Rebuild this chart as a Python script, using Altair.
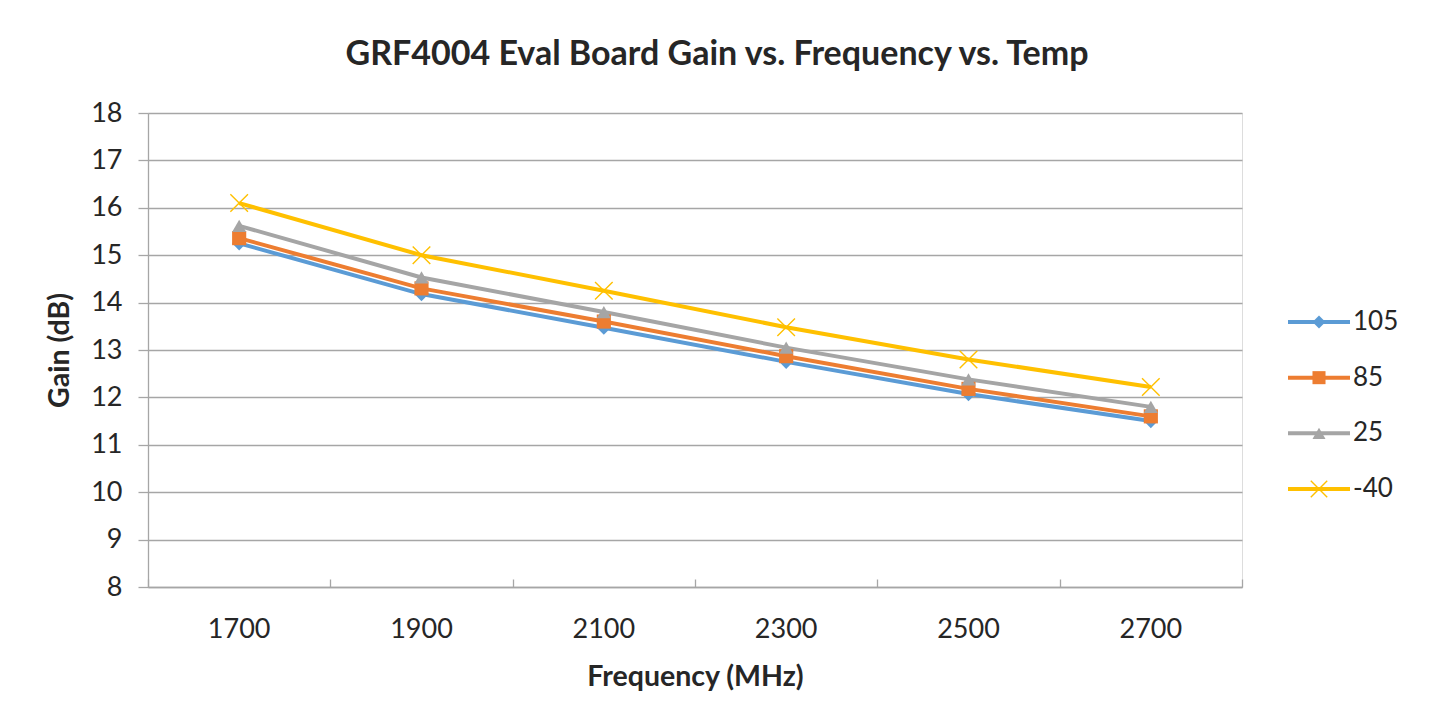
import altair as alt
import pandas as pd

# ---- data ----
freqs = ["1700", "1900", "2100", "2300", "2500", "2700"]
series = ["105", "85", "25", "-40"]
gain_105 = [15.25, 14.18, 13.47, 12.75, 12.07, 11.50]
gain_85 = [15.36, 14.30, 13.60, 12.87, 12.18, 11.60]
gain_25 = [15.62, 14.53, 13.80, 13.05, 12.38, 11.80]
gain_m40 = [16.10, 15.00, 14.25, 13.48, 12.80, 12.22]
y_ticks = [8, 9, 10, 11, 12, 13, 14, 15, 16, 17, 18]

colors = ["#5B9BD5", "#ED7D31", "#A5A5A5", "#FFC000"]
filled_shapes = ["diamond", "square", "triangle-up"]
X_PATH = "M-1,-1L1,1M-1,1L1,-1"

rows = []
for s, vals in zip(series, [gain_105, gain_85, gain_25, gain_m40]):
    for f, v in zip(freqs, vals):
        rows.append({"freq": f, "gain": v, "temp": s})
df = pd.DataFrame(rows)
leg_df = pd.DataFrame({"temp": series})

FONT = "Lato"
TXT = "#262626"
GRID = "#a6a6a6"
W, H = 1094, 474
MS = 200      # filled marker size
XS = 310      # x marker size
LW = 4

xscale = alt.Scale(type="band", domain=freqs, paddingInner=0, paddingOuter=0)
yscale = alt.Scale(domain=[8, 18], nice=False, zero=False)
cscale = alt.Scale(domain=series, range=colors)
sscale = alt.Scale(domain=series[:3], range=filled_shapes)

x_label_axis = alt.Axis(
    title="Frequency (MHz)", orient="bottom", labelAngle=0, ticks=False, tickSize=0,
    grid=False, domainColor=GRID, domainWidth=1.3,
    labelFont=FONT, labelFontSize=27, labelColor=TXT, labelPadding=29,
    titleFont=FONT, titleFontSize=28.5, titleFontWeight="bold", titleColor=TXT,
    titlePadding=20,
)
x_tick_axis = alt.Axis(
    title=None, orient="bottom", labels=False, domain=False, grid=False,
    ticks=True, tickBand="extent", tickSize=8, tickColor=GRID, tickWidth=1.3,
    offset=-8,
)
y_axis = alt.Axis(
    title="Gain (dB)", values=y_ticks, grid=True, gridColor=GRID, gridWidth=1.3,
    domainColor=GRID, domainWidth=1.3, tickColor=GRID, tickWidth=1.3, tickSize=10,
    labelFont=FONT, labelFontSize=27, labelColor=TXT, labelPadding=16,
    titleFont=FONT, titleFontSize=28.5, titleFontWeight="bold", titleColor=TXT,
    titlePadding=16,
)

base = alt.Chart(df)

lines = base.mark_line(strokeWidth=LW).encode(
    x=alt.X("freq:O", scale=xscale, bandPosition=0.5, axis=x_label_axis),
    y=alt.Y("gain:Q", scale=yscale, axis=y_axis),
    color=alt.Color("temp:N", scale=cscale, legend=None),
)

pts = base.transform_filter(alt.datum.temp != "-40").mark_point(
    filled=True, size=MS, opacity=1
).encode(
    x=alt.X("freq:O", scale=xscale, bandPosition=0.5, axis=None),
    y=alt.Y("gain:Q", scale=yscale),
    color=alt.Color("temp:N", scale=cscale, legend=None),
    shape=alt.Shape("temp:N", scale=sscale, legend=None),
)

xpts = base.transform_filter(alt.datum.temp == "-40").mark_point(
    shape=X_PATH, filled=False, size=XS, strokeWidth=1.4, opacity=1, color=colors[3]
).encode(
    x=alt.X("freq:O", scale=xscale, bandPosition=0.5, axis=x_tick_axis),
    y=alt.Y("gain:Q", scale=yscale),
)

main = alt.layer(lines, pts, xpts).resolve_axis(x="independent")

# ---- legend drawn from the series list ----
lx = alt.Scale(domain=[0, 1], range=[1140, 1202])
ly = alt.Scale(type="point", domain=series, range=[209, 376], padding=0)
lbase = alt.Chart(leg_df)

leg_line = lbase.mark_rule(strokeWidth=LW).encode(
    x=alt.XDatum(0, scale=lx, axis=None),
    x2=alt.X2Datum(1),
    y=alt.Y("temp:N", scale=ly, axis=None),
    color=alt.Color("temp:N", scale=cscale, legend=None),
)
leg_pts = lbase.transform_filter(alt.datum.temp != "-40").mark_point(
    filled=True, size=MS - 30, opacity=1
).encode(
    x=alt.XDatum(0.5, scale=lx, axis=None),
    y=alt.Y("temp:N", scale=ly, axis=None),
    color=alt.Color("temp:N", scale=cscale, legend=None),
    shape=alt.Shape("temp:N", scale=sscale, legend=None),
)
leg_x = lbase.transform_filter(alt.datum.temp == "-40").mark_point(
    shape=X_PATH, filled=False, size=XS - 40, strokeWidth=1.4, opacity=1, color=colors[3]
).encode(
    x=alt.XDatum(0.5, scale=lx, axis=None),
    y=alt.Y("temp:N", scale=ly, axis=None),
)
leg_text = lbase.mark_text(
    align="left", baseline="middle", dx=3, font=FONT, fontSize=26, color=TXT
).encode(
    x=alt.XDatum(1, scale=lx, axis=None),
    y=alt.Y("temp:N", scale=ly, axis=None),
    text="temp:N",
)
legend = alt.layer(leg_line, leg_pts, leg_x, leg_text)

chart = alt.layer(main, legend).resolve_scale(
    x="independent", y="independent"
).properties(
    width=W, height=H,
    autosize=alt.AutoSizeParams(type="none"),
    padding={"left": 140, "top": 105, "right": 183, "bottom": 131},
    title=alt.TitleParams(
        "GRF4004 Eval Board Gain vs. Frequency vs. Temp",
        font=FONT, fontSize=34, fontWeight="bold", color=TXT,
        anchor="middle", dx=22, offset=27,
    ),
).configure_view(stroke=None).configure(background="white")

chart.save("out.html", embed_options={"renderer": "svg", "actions": False})
